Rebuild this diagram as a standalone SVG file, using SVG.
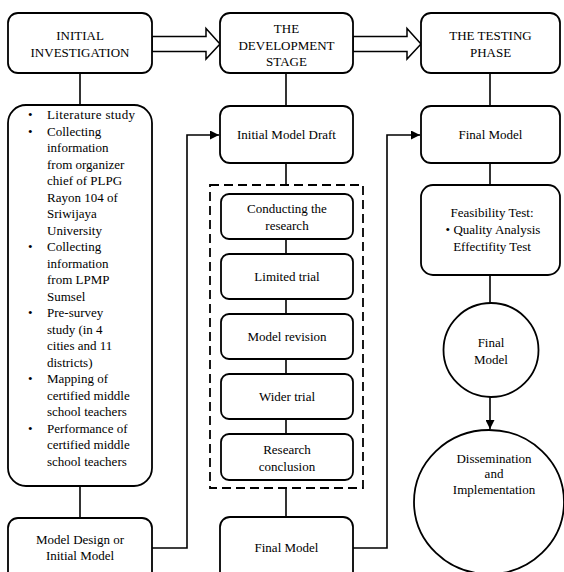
<svg xmlns="http://www.w3.org/2000/svg" width="564" height="572" viewBox="0 0 564 572">
<defs>
<style>
.b{fill:#fff;stroke:#000;stroke-width:1.8}
.t{font-family:"Liberation Serif","Times New Roman",serif;font-size:13px;fill:#000;text-anchor:middle}
.l{font-family:"Liberation Serif","Times New Roman",serif;font-size:13px;fill:#000}
.c{fill:none;stroke:#000;stroke-width:1.6}
.h{fill:#fff;stroke:#000;stroke-width:1.5;stroke-linejoin:miter}
</style>
<marker id="ah" viewBox="0 0 10 10" refX="10" refY="5" markerWidth="9" markerHeight="9" markerUnits="userSpaceOnUse" orient="auto">
<path d="M0,0 L10,5 L0,10 z" fill="#000"/>
</marker>
</defs>
<rect width="564" height="572" fill="#fff"/>
<g id="connectors">
<polygon class="h" points="152,36.5 206,36.5 206,28.5 220,44 206,59 206,51.5 152,51.5"/>
<polygon class="h" points="353,36.5 407,36.5 407,28.5 421,44 407,59 407,51.5 353,51.5"/>
<path class="c" d="M80,73 V105"/>
<path class="c" d="M80,486 V518"/>
<path class="c" d="M152,548 H187 V135 H219" marker-end="url(#ah)"/>
<path class="c" d="M286,73 V106"/>
<path class="c" d="M286,163 V185"/>
<path class="c" d="M286,239 V254"/>
<path class="c" d="M286,299 V314"/>
<path class="c" d="M286,359 V374"/>
<path class="c" d="M286,419 V434"/>
<path class="c" d="M286,488 V517"/>
<path class="c" d="M353,548 H387 V135 H420" marker-end="url(#ah)"/>
<path class="c" d="M490,73 V106"/>
<path class="c" d="M490,163 V185"/>
<path class="c" d="M490,275 V303"/>
<path class="c" d="M490,397 V429" marker-end="url(#ah)"/>
</g>
<g id="initial-investigation">
<rect class="b" x="8" y="13" width="144" height="60" rx="10"/>
<text class="t" x="80" y="40">INITIAL</text>
<text class="t" x="80" y="57">INVESTIGATION</text>
</g>
<g id="development-stage">
<rect class="b" x="220" y="13" width="133" height="60" rx="10"/>
<text class="t" x="286.5" y="33">THE</text>
<text class="t" x="286.5" y="49.5">DEVELOPMENT</text>
<text class="t" x="286.5" y="66">STAGE</text>
</g>
<g id="testing-phase">
<rect class="b" x="421" y="13" width="139" height="60" rx="10"/>
<text class="t" x="490.5" y="40">THE TESTING</text>
<text class="t" x="490.5" y="57">PHASE</text>
</g>
<g id="investigation-list">
<rect class="b" x="8" y="105" width="144" height="381" rx="18"/>
<g class="l">
<text x="28" y="119">•</text>
<text x="47" y="119" textLength="88" lengthAdjust="spacing">Literature study</text>
<text x="28" y="135.5">•</text>
<text x="47" y="135.5">Collecting</text>
<text x="47" y="152">information</text>
<text x="47" y="168.5">from organizer</text>
<text x="47" y="185">chief of PLPG</text>
<text x="47" y="201.5">Rayon 104 of</text>
<text x="47" y="218">Sriwijaya</text>
<text x="47" y="234.5">University</text>
<text x="28" y="251">•</text>
<text x="47" y="251">Collecting</text>
<text x="47" y="267.5">information</text>
<text x="47" y="284">from LPMP</text>
<text x="47" y="300.5">Sumsel</text>
<text x="28" y="317">•</text>
<text x="47" y="317">Pre-survey</text>
<text x="47" y="333.5">study (in 4</text>
<text x="47" y="350">cities and 11</text>
<text x="47" y="366.5">districts)</text>
<text x="28" y="383">•</text>
<text x="47" y="383">Mapping of</text>
<text x="47" y="399.5">certified middle</text>
<text x="47" y="416">school teachers</text>
<text x="28" y="432.5">•</text>
<text x="47" y="432.5">Performance of</text>
<text x="47" y="449">certified middle</text>
<text x="47" y="465.5">school teachers</text>
</g>
</g>
<g id="model-design">
<rect class="b" x="8" y="518" width="144" height="70" rx="10"/>
<text class="t" x="80" y="544">Model Design or</text>
<text class="t" x="80" y="560">Initial Model</text>
</g>
<g id="initial-model-draft">
<rect class="b" x="220" y="106" width="133" height="57" rx="10"/>
<text class="t" x="286.5" y="139">Initial Model Draft</text>
</g>
<g id="research-group">
<rect x="210" y="185" width="153" height="303" fill="none" stroke="#000" stroke-width="1.8" stroke-dasharray="9 5"/>
</g>
<g id="conducting-research">
<rect class="b" x="221" y="194" width="132" height="45" rx="8"/>
<text class="t" x="287" y="213">Conducting the</text>
<text class="t" x="287" y="230">research</text>
</g>
<g id="limited-trial">
<rect class="b" x="221" y="254" width="132" height="45" rx="8"/>
<text class="t" x="287" y="281">Limited trial</text>
</g>
<g id="model-revision">
<rect class="b" x="221" y="314" width="132" height="45" rx="8"/>
<text class="t" x="287" y="341">Model revision</text>
</g>
<g id="wider-trial">
<rect class="b" x="221" y="374" width="132" height="45" rx="8"/>
<text class="t" x="287" y="401">Wider trial</text>
</g>
<g id="research-conclusion">
<rect class="b" x="221" y="434" width="132" height="46" rx="8"/>
<text class="t" x="287" y="454">Research</text>
<text class="t" x="287" y="471">conclusion</text>
</g>
<g id="final-model-mid">
<rect class="b" x="220" y="517" width="133" height="70" rx="10"/>
<text class="t" x="286.5" y="552">Final Model</text>
</g>
<g id="final-model-top">
<rect class="b" x="421" y="106" width="139" height="57" rx="10"/>
<text class="t" x="490.5" y="139">Final Model</text>
</g>
<g id="feasibility-test">
<rect class="b" x="421" y="185" width="139" height="90" rx="12"/>
<text class="t" x="492" y="217">Feasibility Test:</text>
<text class="t" x="493" y="234">• Quality Analysis</text>
<text class="t" x="492" y="251">Effectifity Test</text>
</g>
<g id="final-model-circle">
<ellipse class="b" cx="491" cy="350" rx="47.5" ry="47"/>
<text class="t" x="491" y="347">Final</text>
<text class="t" x="491" y="364">Model</text>
</g>
<g id="dissemination">
<ellipse class="b" cx="489" cy="502" rx="75" ry="72"/>
<text class="t" x="494" y="463">Dissemination</text>
<text class="t" x="494" y="478">and</text>
<text class="t" x="494" y="494">Implementation</text>
</g>
</svg>
